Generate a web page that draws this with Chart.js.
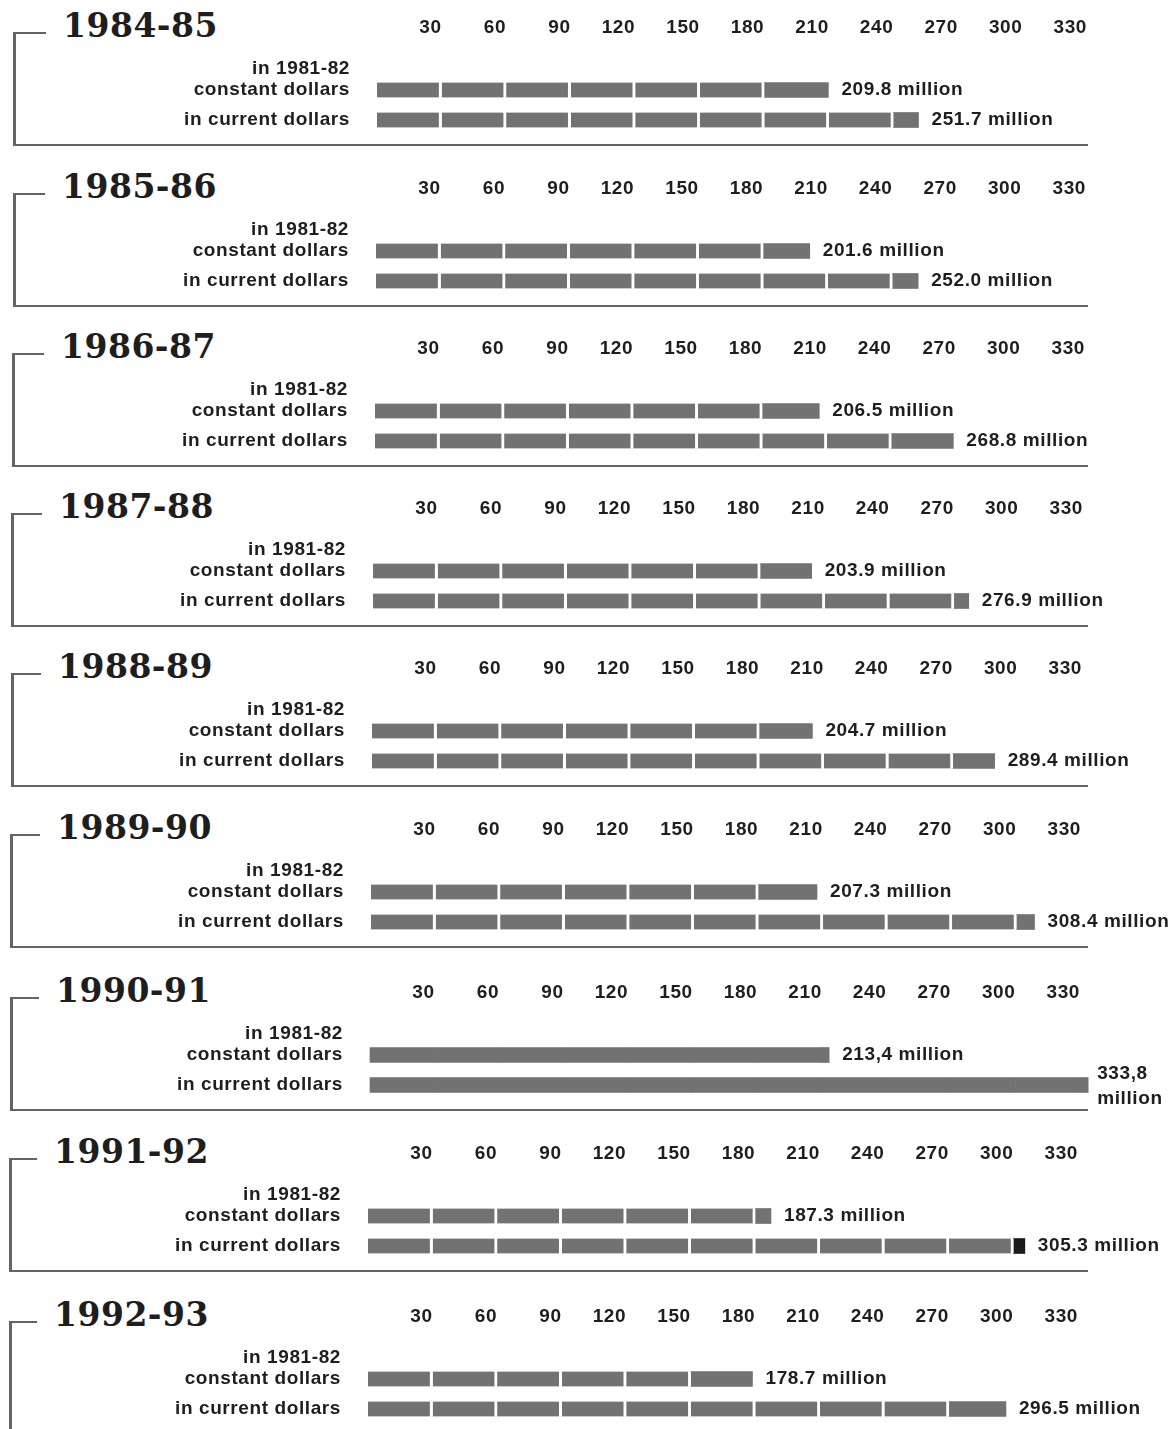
<!DOCTYPE html>
<html>
<head>
<meta charset="utf-8">
<title>Funding 1984-85 to 1992-93</title>
<script src="https://cdn.jsdelivr.net/npm/chart.js@4.4.1/dist/chart.umd.min.js"></script>
<style>
  html, body { margin: 0; padding: 0; background: #fff; }
  body { width: 1175px; height: 1429px; position: relative; overflow: hidden; }
  .panel { position: absolute; left: 0; width: 1175px; height: 165px; }
  .panel canvas { position: absolute; left: 0; top: 0; }
  .title { position: absolute; font: bold 33px "DejaVu Serif", serif; line-height: 33px;
           color: #1e1e1e; white-space: nowrap; letter-spacing: 0.5px; }
  .rule { position: absolute; background: #646464; }
</style>
</head>
<body>
<script>
// Fiscal years and spending, in millions of dollars
const years = ['1984-85', '1985-86', '1986-87', '1987-88', '1988-89', '1989-90', '1990-91', '1991-92', '1992-93'];
const constantDollars = [209.8, 201.6, 206.5, 203.9, 204.7, 207.3, 213.4, 187.3, 178.7];
const currentDollars  = [251.7, 252.0, 268.8, 276.9, 289.4, 308.4, 333.8, 305.3, 296.5];
const seriesLabels = [['in 1981-82', 'constant dollars', ''], 'in current dollars'];
const tickValues = [30, 60, 90, 120, 150, 180, 210, 240, 270, 300, 330];
const unitWord = 'million';
const blockSize = 30;          // each bar is built from blocks of 30 million
const solidYears = ['1990-91'];  // drawn as one continuous bar
const commaYears = ['1990-91'];  // decimal comma in the value labels
const darkTail = { '1991-92': 1 }; // series whose last short block is printed dark

// Page layout of the panels
const panelTop = [0, 161, 321, 481, 641, 802, 965, 1126, 1289];
const panelShift = [0, -1, -2, -4, -5, -6, -7, -9, -9];

const INK = '#1e1e1e';
const BAR = '#727272';
const LABEL_FONT = '"Liberation Sans", Arial, Helvetica, sans-serif';
const CANVAS_H = 165;

function fmt(v, comma) {
  const s = v.toFixed(1);
  return comma ? s.replace('.', ',') : s;
}
function lastBlock(v) { return Math.ceil(v / blockSize) - 1; }

function addRule(x, y, w, h) {
  const d = document.createElement('div');
  d.className = 'rule';
  d.style.left = x + 'px'; d.style.top = y + 'px';
  d.style.width = w + 'px'; d.style.height = h + 'px';
  document.body.appendChild(d);
}

// keep the axes from reserving extra room around their outer labels
function noEdgePadding(s) {
  s.paddingTop = 0; s.paddingBottom = 0; s.paddingLeft = 0; s.paddingRight = 0;
}

years.forEach((year, p) => {
  const top = panelTop[p];
  const shift = panelShift[p];
  const values = [constantDollars[p], currentDollars[p]];
  const solid = solidYears.includes(year);
  const comma = commaYears.includes(year);

  // bracket: short top stroke, left upright, bottom rule
  const lx = Math.round(13 + shift / 2);
  addRule(lx, top + 32, 46 + shift - lx, 2);
  addRule(lx, top + 32, 3, 114);
  addRule(lx, top + 144, 1088 - lx, 2);

  const title = document.createElement('div');
  title.className = 'title';
  title.textContent = year;
  title.style.left = (63 + shift) + 'px';
  title.style.top = (top + 9) + 'px';
  document.body.appendChild(title);

  const panel = document.createElement('div');
  panel.className = 'panel';
  panel.style.top = top + 'px';
  const canvas = document.createElement('canvas');
  canvas.width = 1175; canvas.height = CANVAS_H;
  panel.appendChild(canvas);
  document.body.appendChild(panel);

  const nBlocks = Math.max(...currentDollars, ...constantDollars) / blockSize;
  const datasets = [];
  for (let k = 0; k < Math.ceil(nBlocks); k++) {
    datasets.push({
      data: values.map(v => {
        const rest = v - k * blockSize;
        return rest > 0 ? Math.min(blockSize, rest) : null;
      }),
      backgroundColor: ctx => {
        const v = values[ctx.dataIndex];
        const v30 = v / blockSize;
        const isShortTail = ctx.datasetIndex === lastBlock(v) && v30 !== Math.floor(v30);
        return (darkTail[year] === ctx.dataIndex && isShortTail) ? '#1c1c1c' : BAR;
      },
      borderColor: '#ffffff',
      borderWidth: ctx => {
        if (solid) return 0;
        return ctx.datasetIndex < lastBlock(values[ctx.dataIndex])
          ? { top: 0, bottom: 0, left: 0, right: 3 } : 0;
      },
      borderSkipped: false,
      barThickness: 15,
      clip: false
    });
  }

  const x0 = 377 + shift;
  const xEnd = x0 + 710;

  const spacing = {
    id: 'letterSpacing',
    beforeDraw(chart) { chart.ctx.letterSpacing = '0.6px'; }
  };

  const valueLabels = {
    id: 'valueLabels',
    afterDatasetsDraw(chart) {
      const ctx = chart.ctx;
      const xs = chart.scales.x, ys = chart.scales.y;
      ctx.save();
      ctx.font = 'bold 19px ' + LABEL_FONT;
      ctx.fillStyle = INK;
      ctx.textAlign = 'left';
      ctx.textBaseline = 'middle';
      ctx.letterSpacing = '0.6px';
      values.forEach((v, i) => {
        const x = xs.getPixelForValue(v) + 13;
        const y = ys.getPixelForValue(i);
        const text = fmt(v, comma) + ' ' + unitWord;
        if (x + ctx.measureText(text).width <= chart.width) {
          ctx.fillText(text, x, y);
        } else {
          // not enough room at the right edge: stack number over unit
          ctx.fillText(fmt(v, comma), x - 4, y - 11);
          ctx.fillText(unitWord, x - 4, y + 14);
        }
      });
      ctx.restore();
    }
  };

  new Chart(canvas, {
    type: 'bar',
    data: { labels: seriesLabels, datasets },
    options: {
      indexAxis: 'y',
      responsive: false,
      animation: false,
      events: [],
      layout: { padding: { left: 0, right: 1175 - xEnd, top: 0, bottom: CANVAS_H - 135 } },
      plugins: { legend: { display: false }, tooltip: { enabled: false } },
      scales: {
        x: {
          position: 'top',
          stacked: true,
          min: 0,
          max: 330,
          grid: { display: false, drawTicks: false },
          border: { display: false },
          afterBuildTicks: s => { s.ticks = tickValues.map(v => ({ value: v })); },
          afterFit: s => { s.height = 75; noEdgePadding(s); },
          ticks: {
            align: 'end',
            padding: 36,
            autoSkip: false,
            maxRotation: 0,
            color: INK,
            font: { family: LABEL_FONT, size: 19, weight: 'bold', lineHeight: 1.2 },
            callback: v => String(v)
          }
        },
        y: {
          stacked: true,
          grid: { display: false, drawTicks: false },
          border: { display: false },
          afterFit: s => { s.width = x0; noEdgePadding(s); },
          ticks: {
            padding: 27,
            autoSkip: false,
            color: INK,
            font: { family: LABEL_FONT, size: 19, weight: 'bold', lineHeight: 1.1 }
          }
        }
      }
    },
    plugins: [spacing, valueLabels]
  });
});
</script>
</body>
</html>
